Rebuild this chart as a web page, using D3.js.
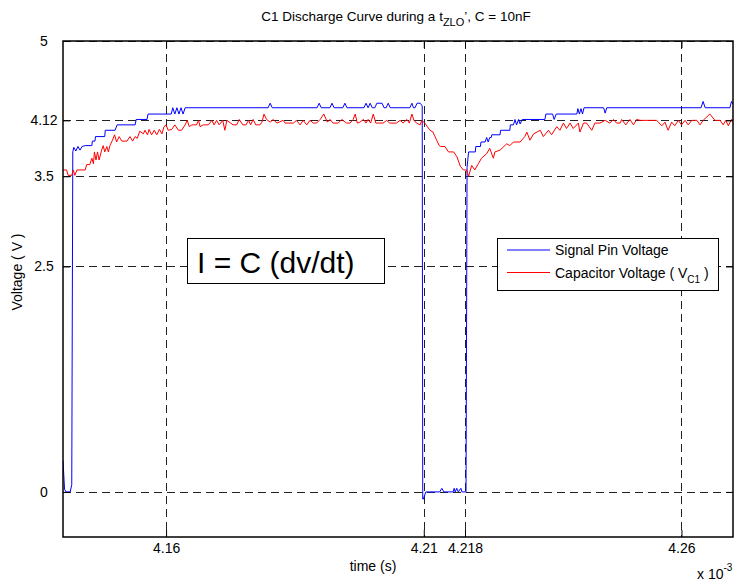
<!DOCTYPE html>
<html>
<head>
<meta charset="utf-8">
<script src="https://cdn.jsdelivr.net/npm/d3@7/dist/d3.min.js"></script>
<style>
    html, body { margin: 0; padding: 0; background: #fff; }
    svg { display: block; font-family: "Liberation Sans", Arial, sans-serif; }
</style>
</head>
<body>
<div id="chart"></div>
<script>
'use strict';

// axis ticks (time in units of 1e-3 s)
var xTicks = [4.16, 4.21, 4.218, 4.26];
var yTicks = [0, 2.5, 3.5, 4.12, 5];

// signal pin voltage, [t, V]
var signalPin = [
    [4.1400, 0.35], [4.1403, 0.03], [4.1406, 0.0], [4.1414, 0.0], [4.1417, 0.08], [4.1419, 3.77],
    [4.1421, 3.82], [4.1425, 3.78], [4.1429, 3.83], [4.1433, 3.79], [4.1437, 3.83], [4.1443, 3.84],
    [4.1456, 3.84], [4.1457, 3.89], [4.1462, 3.89], [4.1463, 3.94], [4.1481, 3.94], [4.1482, 4.01],
    [4.1501, 4.01], [4.1505, 4.07], [4.1540, 4.07], [4.1542, 4.13], [4.1563, 4.13], [4.1565, 4.19],
    [4.1610, 4.19], [4.1613, 4.26], [4.1617, 4.19], [4.1621, 4.26], [4.1625, 4.19], [4.1629, 4.26],
    [4.1633, 4.19], [4.1637, 4.26], [4.1644, 4.26],
    [4.1798, 4.26], [4.1802, 4.31], [4.1806, 4.26],
    [4.1893, 4.26], [4.1897, 4.31], [4.1901, 4.26],
    [4.1918, 4.26], [4.1922, 4.31], [4.1926, 4.26],
    [4.1943, 4.26], [4.1947, 4.31], [4.1951, 4.26],
    [4.1984, 4.26], [4.1988, 4.31], [4.1992, 4.26], [4.1996, 4.31], [4.2000, 4.26],
    [4.2005, 4.26], [4.2009, 4.31], [4.2019, 4.31], [4.2023, 4.26],
    [4.2027, 4.26], [4.2031, 4.31], [4.2035, 4.26],
    [4.2073, 4.26], [4.2077, 4.31], [4.2080, 4.26], [4.2083, 4.26], [4.2087, 4.31], [4.2093, 4.31],
    [4.2097, 4.28], [4.2098, -0.08], [4.2099, -0.08], [4.2104, 0.0],
    [4.2131, 0.0], [4.2135, 0.04], [4.2139, 0.0],
    [4.2157, 0.0], [4.2159, 0.04], [4.2161, 0.0], [4.2164, 0.04], [4.2167, 0.0], [4.2172, 0.04], [4.2174, 0.0],
    [4.2182, 0.0], [4.2184, 3.6], [4.2187, 3.77], [4.2200, 3.77], [4.2201, 3.83], [4.2210, 3.83], [4.2211, 3.88],
    [4.2219, 3.88], [4.2222, 3.93], [4.2225, 3.88], [4.2228, 3.93], [4.2231, 3.93], [4.2232, 3.96],
    [4.2248, 3.96], [4.2249, 4.01], [4.2267, 4.01], [4.2268, 4.07],
    [4.2274, 4.07], [4.2277, 4.13], [4.2280, 4.07], [4.2284, 4.13], [4.2287, 4.08], [4.2291, 4.13],
    [4.2335, 4.13], [4.2337, 4.19], [4.2350, 4.19], [4.2353, 4.13], [4.2357, 4.19],
    [4.2397, 4.19], [4.2399, 4.25], [4.2402, 4.19], [4.2405, 4.25], [4.2408, 4.19], [4.2411, 4.26],
    [4.2449, 4.26], [4.2452, 4.20], [4.2455, 4.26],
    [4.2638, 4.26], [4.2642, 4.33], [4.2646, 4.26],
    [4.2694, 4.26], [4.2697, 4.33], [4.2700, 4.30]
];

// capacitor voltage V_C1, [t, V]
var capacitor = [
    [4.1400, 3.57], [4.1407, 3.57], [4.1410, 3.51], [4.1417, 3.51], [4.1420, 3.57], [4.1423, 3.51],
    [4.1427, 3.57], [4.1443, 3.57], [4.1446, 3.63], [4.1452, 3.63], [4.1456, 3.70], [4.1459, 3.64],
    [4.1461, 3.77], [4.1464, 3.68], [4.1467, 3.77], [4.1470, 3.68], [4.1475, 3.79], [4.1478, 3.84],
    [4.1481, 3.77], [4.1485, 3.83], [4.1488, 3.77], [4.1491, 3.84], [4.1496, 3.90], [4.1500, 3.96],
    [4.1504, 3.88], [4.1509, 3.94], [4.1514, 3.89], [4.1524, 3.89], [4.1530, 3.94], [4.1535, 3.89],
    [4.1540, 3.94], [4.1544, 3.92], [4.1549, 4.00], [4.1556, 3.97], [4.1559, 4.01], [4.1564, 3.96],
    [4.1567, 4.02], [4.1572, 3.96], [4.1577, 4.01], [4.1582, 3.96], [4.1587, 4.02], [4.1592, 3.97],
    [4.1596, 4.05], [4.1600, 4.07], [4.1604, 4.01], [4.1611, 4.02], [4.1617, 4.07], [4.1624, 4.01],
    [4.1630, 4.01], [4.1637, 4.07], [4.1641, 4.12], [4.1645, 4.05], [4.1650, 4.07], [4.1659, 4.07],
    [4.1663, 4.12], [4.1666, 4.05], [4.1672, 4.07], [4.1682, 4.07], [4.1689, 4.12], [4.1693, 4.07],
    [4.1698, 4.12], [4.1703, 4.07], [4.1710, 4.12], [4.1714, 4.01], [4.1718, 4.12], [4.1730, 4.07],
    [4.1737, 4.07], [4.1742, 4.13], [4.1749, 4.07], [4.1755, 4.07], [4.1760, 4.12], [4.1764, 4.07],
    [4.1769, 4.13], [4.1774, 4.07], [4.1782, 4.07],
    [4.1786, 4.10], [4.1790, 4.19], [4.1795, 4.13], [4.1802, 4.10], [4.1808, 4.13], [4.1815, 4.09],
    [4.1827, 4.12], [4.1831, 4.09], [4.1847, 4.09], [4.1853, 4.12], [4.1860, 4.07], [4.1866, 4.12],
    [4.1873, 4.07], [4.1879, 4.12], [4.1886, 4.09], [4.1892, 4.09], [4.1899, 4.13], [4.1906, 4.19],
    [4.1913, 4.10], [4.1918, 4.13], [4.1924, 4.09], [4.1934, 4.09], [4.1941, 4.13], [4.1950, 4.09],
    [4.1957, 4.09], [4.1963, 4.13], [4.1967, 4.19], [4.1971, 4.09], [4.1976, 4.10], [4.1983, 4.13],
    [4.1988, 4.09], [4.1992, 4.13], [4.1997, 4.09], [4.2002, 4.19], [4.2007, 4.09], [4.2015, 4.09],
    [4.2021, 4.09], [4.2028, 4.12], [4.2034, 4.09], [4.2047, 4.09], [4.2054, 4.12], [4.2060, 4.09],
    [4.2067, 4.13], [4.2072, 4.09], [4.2077, 4.19], [4.2081, 4.12], [4.2086, 4.09], [4.2093, 4.07],
    [4.2096, 4.12], [4.2102, 4.09],
    [4.2107, 4.05], [4.2112, 4.01], [4.2118, 3.99], [4.2121, 3.95], [4.2125, 3.90], [4.2130, 3.84],
    [4.2133, 3.83], [4.2141, 3.83], [4.2148, 3.77], [4.2158, 3.77], [4.2164, 3.72], [4.2171, 3.61],
    [4.2177, 3.57], [4.2183, 3.57], [4.2187, 3.50],
    [4.2193, 3.62], [4.2199, 3.57], [4.2206, 3.64], [4.2212, 3.70], [4.2222, 3.75], [4.2228, 3.81],
    [4.2235, 3.70], [4.2238, 3.77], [4.2248, 3.79], [4.2261, 3.86], [4.2267, 3.84], [4.2274, 3.88],
    [4.2287, 3.88], [4.2296, 3.94], [4.2300, 3.99], [4.2306, 3.90], [4.2313, 3.97], [4.2326, 4.01],
    [4.2332, 3.94], [4.2342, 4.01], [4.2348, 3.96], [4.2358, 4.05], [4.2364, 4.01], [4.2371, 4.09],
    [4.2377, 4.03], [4.2384, 4.09], [4.2390, 4.03], [4.2400, 4.09], [4.2403, 3.99], [4.2410, 4.09],
    [4.2416, 4.09], [4.2426, 4.01], [4.2432, 4.09], [4.2442, 4.09], [4.2452, 4.12], [4.2461, 4.09],
    [4.2468, 4.13], [4.2474, 4.09], [4.2481, 4.09],
    [4.2484, 4.13], [4.2492, 4.07], [4.2500, 4.13], [4.2507, 4.07], [4.2513, 4.13], [4.2520, 4.12],
    [4.2552, 4.12], [4.2555, 4.10], [4.2562, 4.06], [4.2568, 4.10], [4.2574, 4.01], [4.2581, 4.10],
    [4.2587, 4.06], [4.2594, 4.12], [4.2600, 4.07], [4.2607, 4.12], [4.2613, 4.07], [4.2620, 4.12],
    [4.2630, 4.12], [4.2636, 4.07], [4.2642, 4.12], [4.2655, 4.19], [4.2665, 4.12], [4.2675, 4.12],
    [4.2681, 4.07], [4.2686, 4.12], [4.2691, 4.06], [4.2697, 4.13], [4.2700, 4.12]
];

var width = 735, height = 582;
var margin = { top: 41, right: 2, bottom: 45, left: 63 };
var plotW = width - margin.left - margin.right;
var plotH = height - margin.top - margin.bottom;

var svg = d3.select("#chart").append("svg")
    .attr("width", width)
    .attr("height", height);

var x = d3.scaleLinear().domain([4.14, 4.27]).range([0, plotW]);
var y = d3.scaleLinear().domain([-0.5, 5]).range([plotH, 0]);

var g = svg.append("g")
    .attr("transform", "translate(" + margin.left + "," + margin.top + ")");

g.append("clipPath")
    .attr("id", "plotClip")
    .append("rect")
    .attr("width", plotW)
    .attr("height", plotH);

// dashed grid
g.append("g")
    .selectAll("line")
    .data(xTicks)
    .enter().append("line")
    .attr("x1", function (d) { return Math.round(x(d)) + 0.5; })
    .attr("x2", function (d) { return Math.round(x(d)) + 0.5; })
    .attr("y1", 0)
    .attr("y2", plotH)
    .attr("stroke", "#222")
    .attr("stroke-dasharray", "8,5");

g.append("g")
    .selectAll("line")
    .data(yTicks)
    .enter().append("line")
    .attr("x1", 0)
    .attr("x2", plotW)
    .attr("y1", function (d) { return Math.round(y(d)) + 0.5; })
    .attr("y2", function (d) { return Math.round(y(d)) + 0.5; })
    .attr("stroke", "#222")
    .attr("stroke-dasharray", "8,5");

// data lines
var line = d3.line()
    .x(function (d) { return x(d[0]); })
    .y(function (d) { return y(d[1]); });

var lines = g.append("g").attr("clip-path", "url(#plotClip)");

lines.append("path")
    .datum(signalPin)
    .attr("d", line)
    .attr("fill", "none")
    .attr("stroke", "#0000ff")
    .attr("stroke-width", 1);

lines.append("path")
    .datum(capacitor)
    .attr("d", line)
    .attr("fill", "none")
    .attr("stroke", "#ff0000")
    .attr("stroke-width", 1);

// axes, ticks pointing inwards like matlab
var fmt = function (d) { return String(d); };

var xAxis = g.append("g")
    .attr("transform", "translate(0," + plotH + ")")
    .call(d3.axisBottom(x).tickValues(xTicks).tickFormat(fmt).tickSizeInner(-7).tickSizeOuter(0).tickPadding(6));

g.append("g")
    .call(d3.axisTop(x).tickValues(xTicks).tickFormat("").tickSizeInner(-7).tickSizeOuter(0));

var yAxis = g.append("g")
    .call(d3.axisLeft(y).tickValues(yTicks).tickFormat(fmt).tickSizeInner(-7).tickSizeOuter(0));

g.append("g")
    .attr("transform", "translate(" + plotW + ",0)")
    .call(d3.axisRight(y).tickValues(yTicks).tickFormat("").tickSizeInner(-7).tickSizeOuter(0));

g.selectAll(".domain").remove();
g.selectAll(".tick line").attr("stroke", "#000");

xAxis.selectAll("text")
    .style("font-size", "14px")
    .attr("fill", "#000");

yAxis.selectAll("text")
    .style("font-size", "14px")
    .attr("fill", "#000")
    .attr("text-anchor", "middle")
    .attr("x", -19);

// box
g.append("rect")
    .attr("x", 0)
    .attr("y", 0)
    .attr("width", plotW)
    .attr("height", plotH)
    .attr("fill", "none")
    .attr("stroke", "#000")
    .attr("stroke-width", 1.5);

// title
var title = svg.append("text")
    .attr("x", 396)
    .attr("y", 21)
    .attr("text-anchor", "middle")
    .style("font-size", "13.5px");
title.append("tspan").text("C1 Discharge Curve during a t");
title.append("tspan").attr("dy", 5).style("font-size", "11px").text("ZLO");
title.append("tspan").attr("dy", -5).text("\u2019, C = 10nF");

// axis labels
svg.append("text")
    .attr("x", 373)
    .attr("y", 571)
    .attr("text-anchor", "middle")
    .style("font-size", "14px")
    .text("time (s)");

var mult = svg.append("text")
    .attr("x", 697)
    .attr("y", 579)
    .style("font-size", "14px");
mult.append("tspan").text("x 10");
mult.append("tspan").attr("dy", -8).style("font-size", "10px").text("-3");

svg.append("text")
    .attr("transform", "translate(22,272) rotate(-90)")
    .attr("text-anchor", "middle")
    .style("font-size", "14px")
    .text("Voltage ( V )");

// legend
var legend = svg.append("g");

legend.append("rect")
    .attr("x", 497.5)
    .attr("y", 238.5)
    .attr("width", 221)
    .attr("height", 52)
    .attr("fill", "#fff")
    .attr("stroke", "#000");

var legendItems = [
    { label: "Signal Pin Voltage", color: "#0000ff", dy: 12 },
    { label: "Capacitor Voltage ( V", color: "#ff0000", dy: 34.5 }
];

legendItems.forEach(function (item) {
    legend.append("line")
        .attr("x1", 507)
        .attr("x2", 550)
        .attr("y1", 238 + item.dy)
        .attr("y2", 238 + item.dy)
        .attr("stroke", item.color);
});

legend.append("text")
    .attr("x", 555)
    .attr("y", 255)
    .style("font-size", "14px")
    .text(legendItems[0].label);

var capLabel = legend.append("text")
    .attr("x", 555)
    .attr("y", 278)
    .style("font-size", "14px");
capLabel.append("tspan").text(legendItems[1].label);
capLabel.append("tspan").attr("dy", 5).style("font-size", "10px").text("C1");
capLabel.append("tspan").attr("dy", -5).text(" )");

// annotation box
svg.append("rect")
    .attr("x", 187.5)
    .attr("y", 238.5)
    .attr("width", 197)
    .attr("height", 45)
    .attr("fill", "#fff")
    .attr("stroke", "#000");

svg.append("text")
    .attr("x", 197)
    .attr("y", 273)
    .style("font-size", "30px")
    .text("I = C (dv/dt)");
</script>
</body>
</html>
